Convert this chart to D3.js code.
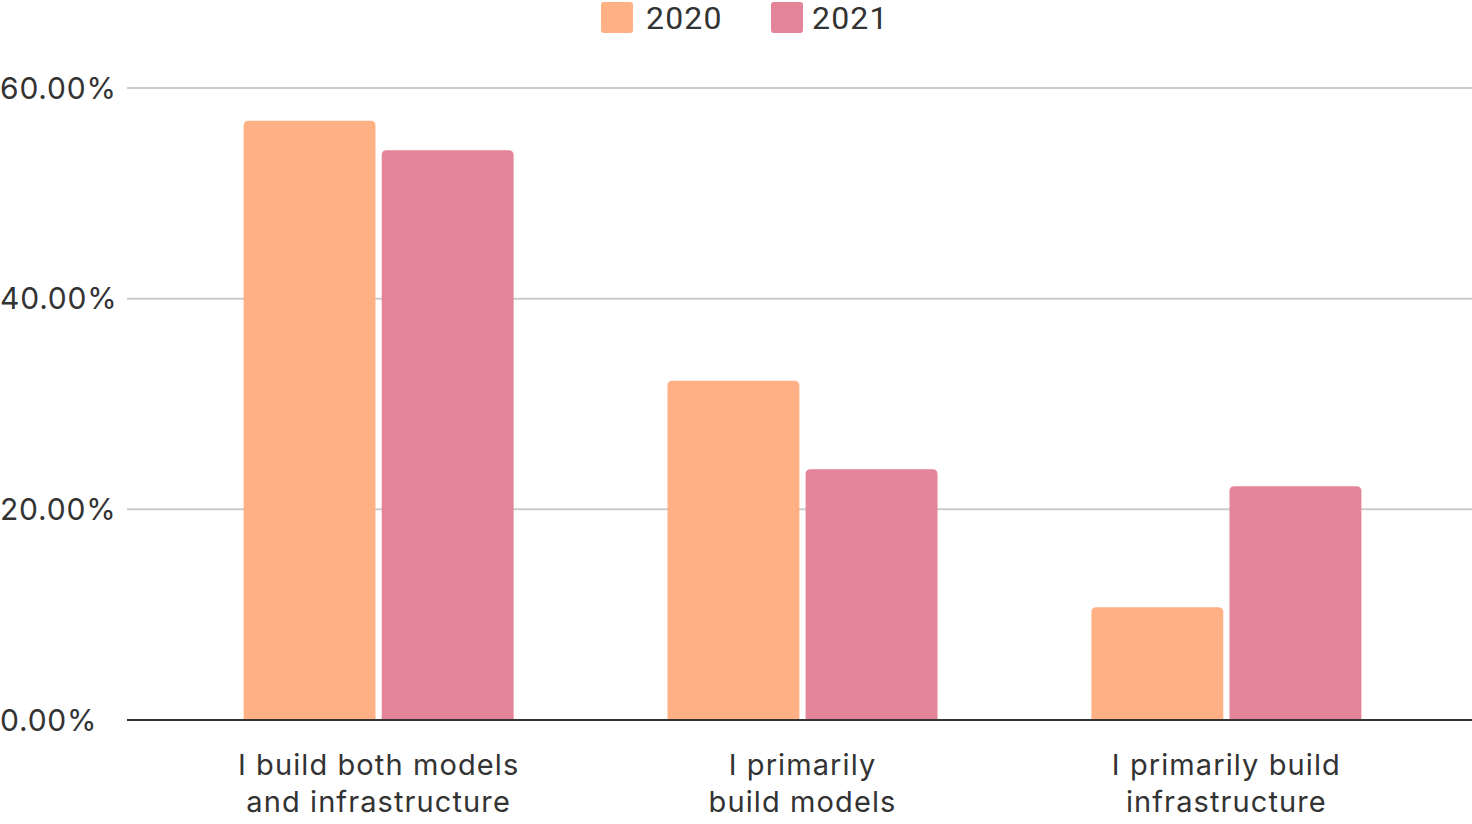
<!DOCTYPE html>
<html>
<head>
<meta charset="utf-8">
<script src="https://cdn.jsdelivr.net/npm/d3@7"></script>
<style>
  html, body { margin: 0; padding: 0; background: #fff; }
  svg { display: block; }
</style>
</head>
<body>
<script>
const categories = [
    ['I build both models', 'and infrastructure'],
    ['I primarily', 'build models'],
    ['I primarily build', 'infrastructure']
];
const seriesNames = ['2020', '2021'];
const values2020 = [0.569, 0.322, 0.107];
const values2021 = [0.541, 0.238, 0.222];
const yTicks = [0, 0.2, 0.4, 0.6];

const colors = ['#FFB085', '#E38499'];
const svgWidth = 1472;
const svgHeight = 824;
const margin = { top: 88, right: 0, bottom: 104, left: 127 };
const height = svgHeight - margin.top - margin.bottom;

const svg = d3.select('body')
    .append('svg')
    .attr('width', svgWidth)
    .attr('height', svgHeight);

const dataset = categories.map((c, i) => ({
    key: i,
    label: c,
    values: [values2020[i], values2021[i]]
}));

const x = d3.scaleBand()
    .domain(dataset.map(d => d.key))
    .range([margin.left + 3, svgWidth + 3])
    .paddingInner(0.363)
    .paddingOuter(0.268);

const xSub = d3.scaleBand()
    .domain(seriesNames)
    .range([0, x.bandwidth()])
    .paddingInner(0.045);

const y = d3.scaleLinear()
    .domain([0, 0.6])
    .range([margin.top + height, margin.top]);

// gridlines
svg.append('g')
    .selectAll('line')
    .data(yTicks.filter(t => t > 0))
    .enter()
    .append('line')
    .attr('x1', margin.left)
    .attr('x2', svgWidth)
    .attr('y1', d => y(d))
    .attr('y2', d => y(d))
    .attr('stroke', '#cccccc')
    .attr('stroke-width', 2);

// y labels (left aligned)
svg.append('g')
    .selectAll('text')
    .data(yTicks)
    .enter()
    .append('text')
    .attr('x', 0)
    .attr('y', d => y(d))
    .attr('dy', '0.35em')
    .attr('font-family', 'Inter, sans-serif')
    .attr('font-size', 30)
    .attr('letter-spacing', 0.8)
    .attr('fill', '#333')
    .text(d => d3.format('.2%')(d));

// rounded-top bar path
function topRounded(x0, y0, w, h, r) {
    r = Math.min(r, h, w / 2);
    return `M${x0},${y0 + h}V${y0 + r}Q${x0},${y0} ${x0 + r},${y0}` +
        `H${x0 + w - r}Q${x0 + w},${y0} ${x0 + w},${y0 + r}V${y0 + h}Z`;
}

const groups = svg.append('g')
    .selectAll('g')
    .data(dataset)
    .enter()
    .append('g')
    .attr('transform', d => `translate(${x(d.key)},0)`);

groups.selectAll('path')
    .data(d => d.values.map((v, i) => ({ name: seriesNames[i], value: v, i })))
    .enter()
    .append('path')
    .attr('d', d => topRounded(xSub(d.name), y(d.value), xSub.bandwidth(), y(0) - y(d.value), 5))
    .attr('fill', d => colors[d.i]);

// zero line
svg.append('line')
    .attr('x1', margin.left)
    .attr('x2', svgWidth)
    .attr('y1', y(0))
    .attr('y2', y(0))
    .attr('stroke', '#333')
    .attr('stroke-width', 2);

// category labels
const labels = svg.append('g')
    .selectAll('text')
    .data(dataset)
    .enter()
    .append('text')
    .attr('text-anchor', 'middle')
    .attr('font-family', 'Inter, sans-serif')
    .attr('font-size', 29)
    .attr('letter-spacing', 1.1)
    .attr('fill', '#333')
    .attr('x', d => x(d.key) + x.bandwidth() / 2);

labels.selectAll('tspan')
    .data(d => d.label.map((line, i) => ({ line, i, cx: x(d.key) + x.bandwidth() / 2 })))
    .enter()
    .append('tspan')
    .attr('x', d => d.cx)
    .attr('y', d => 775 + d.i * 37)
    .text(d => d.line);

// legend
const legend = svg.append('g');
const legendX = [601, 771];
const legendTextX = [646, 812];
seriesNames.forEach((name, i) => {
    legend.append('rect')
        .attr('x', legendX[i])
        .attr('y', 2)
        .attr('width', 32)
        .attr('height', 31)
        .attr('rx', 3)
        .attr('fill', colors[i]);
    legend.append('text')
        .attr('x', legendTextX[i])
        .attr('y', 17)
        .attr('dy', '0.36em')
        .attr('font-family', 'Roboto, sans-serif')
        .attr('font-size', 32)
        .attr('letter-spacing', 1.2)
        .attr('fill', '#333')
        .text(name);
});
</script>
</body>
</html>
